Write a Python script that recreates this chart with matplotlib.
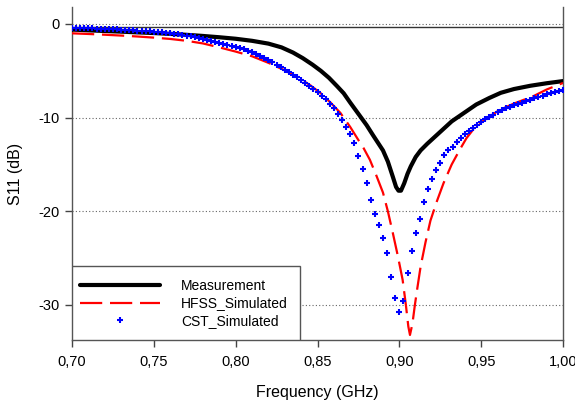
import numpy as np
import matplotlib
matplotlib.use("Agg")
import matplotlib.pyplot as plt
from matplotlib.patches import Rectangle
from matplotlib.ticker import FuncFormatter

plt.rcParams["font.family"] = ["Liberation Sans", "DejaVu Sans"]

# Measurement (black solid)
meas_f = [0.700, 0.710, 0.720, 0.730, 0.740, 0.750, 0.760, 0.770, 0.780, 0.790,
          0.800, 0.810, 0.820, 0.828, 0.835, 0.841, 0.847, 0.852, 0.857, 0.862,
          0.866, 0.870, 0.875, 0.880, 0.884, 0.887, 0.890, 0.893, 0.896, 0.898,
          0.8995, 0.901, 0.903, 0.905, 0.907, 0.910, 0.913, 0.917, 0.922, 0.927,
          0.932, 0.937, 0.942, 0.947, 0.955, 0.962, 0.970, 0.980, 0.990, 1.000]
meas_db = [-0.60, -0.68, -0.75, -0.82, -0.90, -0.97, -1.06, -1.16, -1.28, -1.42,
           -1.58, -1.80, -2.10, -2.50, -3.05, -3.65, -4.35, -5.00, -5.75, -6.65,
           -7.40, -8.40, -9.60, -10.80, -11.90, -12.70, -13.50, -14.70, -16.30, -17.40,
           -17.80, -17.80, -17.00, -16.00, -15.20, -14.20, -13.50, -12.80, -12.00, -11.20,
           -10.40, -9.80, -9.20, -8.60, -7.90, -7.35, -6.95, -6.60, -6.33, -6.10]

# HFSS simulation (red dashed)
hfss_f = [0.700, 0.710, 0.720, 0.730, 0.740, 0.750, 0.760, 0.770, 0.780, 0.790,
          0.800, 0.810, 0.820, 0.830, 0.839, 0.846, 0.852, 0.858, 0.864, 0.870,
          0.875, 0.878, 0.882, 0.886, 0.890, 0.893, 0.896, 0.899, 0.902, 0.904,
          0.9055, 0.9065, 0.908, 0.9095, 0.911, 0.913, 0.916, 0.919, 0.923, 0.927,
          0.932, 0.937, 0.941, 0.945, 0.950, 0.955, 0.961, 0.970, 0.982, 0.990, 1.000]
hfss_db = [-1.00, -1.07, -1.15, -1.24, -1.34, -1.46, -1.60, -1.80, -2.08, -2.50,
           -2.95, -3.45, -4.15, -4.95, -5.80, -6.60, -7.40, -8.40, -9.50, -11.00,
           -12.40, -13.20, -14.50, -16.20, -18.00, -20.00, -22.30, -24.70, -27.30, -30.00,
           -32.30, -33.20, -32.00, -30.00, -28.20, -25.90, -23.30, -21.00, -18.90, -17.00,
           -15.00, -13.40, -12.20, -11.30, -10.50, -9.90, -9.20, -8.50, -7.70, -7.00, -6.30]

# CST simulation (blue markers), one value every 2.5 MHz from 0.70 to 1.00 GHz
cst_f = np.linspace(0.70, 1.00, 121)
cst_db = [-0.40, -0.42, -0.44, -0.46, -0.47, -0.48, -0.50, -0.51, -0.53, -0.55,
          -0.57, -0.59, -0.61, -0.63, -0.65, -0.67, -0.70, -0.72, -0.75, -0.78,
          -0.81, -0.84, -0.88, -0.92, -0.97, -1.03, -1.10, -1.17, -1.25, -1.33,
          -1.42, -1.51, -1.60, -1.70, -1.80, -1.90, -2.00, -2.12, -2.24, -2.37,
          -2.45, -2.58, -2.72, -2.86, -3.02, -3.20, -3.39, -3.60, -3.85, -4.10,
          -4.35, -4.60, -4.88, -5.15, -5.42, -5.70, -6.00, -6.30, -6.62, -6.95,
          -7.30, -7.65, -8.05, -8.50, -9.00, -9.60, -10.25, -10.95, -11.70, -12.70,
          -14.10, -15.50, -17.00, -18.80, -20.30, -21.50, -22.80, -24.50, -27.00, -29.30,
          -30.70, -29.60, -26.60, -24.20, -22.30, -20.80, -19.00, -17.60, -16.50, -15.60,
          -14.80, -14.00, -13.50, -13.10, -12.60, -12.20, -11.80, -11.45, -11.10, -10.80,
          -10.50, -10.20, -9.95, -9.70, -9.40, -9.20, -9.00, -8.85, -8.70, -8.55,
          -8.40, -8.25, -8.10, -7.95, -7.80, -7.65, -7.50, -7.40, -7.25, -7.12, -7.00]

x_ticks = [0.70, 0.75, 0.80, 0.85, 0.90, 0.95, 1.00]
y_ticks = [0, -10, -20, -30]

fig = plt.figure(figsize=(5.75, 4.01), dpi=100)
ax = fig.add_axes([72 / 575, 1 - 340 / 401, 491 / 575, 333 / 401])

ax.set_xlim(0.70, 1.00)
ax.set_ylim(-33.74, 1.81)

# grid and the solid line just below 0 dB
for yt in y_ticks:
    ax.axhline(yt, color="#666666", lw=0.8, ls=(0, (1, 2)), zorder=0)
ax.axhline(-0.32, color="#333333", lw=1.0, zorder=1)

ax.plot(meas_f, meas_db, color="black", lw=3.0, solid_joinstyle="round",
        solid_capstyle="round", label="Measurement", zorder=3)
ax.plot(hfss_f, hfss_db, color="#ff0000", lw=1.6, dashes=(10, 3.5),
        label="HFSS_Simulated", zorder=4)
ax.plot(cst_f, cst_db, ls="none", marker="+", color="#0000ff", ms=5, mew=1.5,
        label="CST_Simulated", zorder=5)

ax.set_xticks(x_ticks)
ax.set_yticks(y_ticks)
ax.xaxis.set_major_formatter(FuncFormatter(lambda v, p: f"{v:.2f}".replace(".", ",")))
ax.yaxis.set_major_formatter(FuncFormatter(lambda v, p: f"{v:.0f}"))
ax.tick_params(direction="out", length=5, width=1, color="#444444",
               labelsize=10.5, pad=4)
ax.tick_params(axis="x", pad=6)

for side in ["left", "right", "bottom"]:
    ax.spines[side].set_color("#555555")
    ax.spines[side].set_linewidth(1.0)
ax.spines["top"].set_visible(False)

ax.set_xlabel("Frequency (GHz)", fontsize=11.5)
ax.set_ylabel("S11 (dB)", fontsize=11.5)
ax.xaxis.set_label_coords(0.5, -0.135)
ax.yaxis.set_label_coords(-0.10, 0.5)

# legend box
ax.add_patch(Rectangle((0, 0), (300 - 72) / 491, (340 - 266) / 333,
                       transform=ax.transAxes, facecolor="white",
                       edgecolor="#555555", lw=1.0, zorder=6))
leg = ax.legend(loc="upper left", bbox_to_anchor=(-0.004, (340 - 269) / 333),
                borderaxespad=0, borderpad=0.7, frameon=False, fontsize=10,
                handlelength=5.8, handletextpad=1.5, labelspacing=0.27,
                numpoints=1)
leg.set_zorder(7)

fig.savefig("out.png", dpi=100)
